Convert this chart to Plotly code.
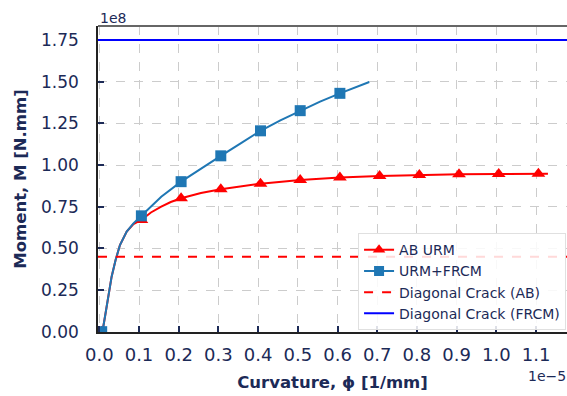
import plotly.graph_objects as go

# Curvature in units of 1e-5 1/mm, moment in units of 1e8 N.mm
ab_curve_x = [0.006, 0.010, 0.015, 0.020, 0.025, 0.031, 0.041, 0.052, 0.069, 0.086, 0.106, 0.130,
              0.156, 0.180, 0.206, 0.256, 0.306, 0.356, 0.406, 0.506, 0.606, 0.706, 0.806, 0.906,
              1.006, 1.106, 1.130]
ab_curve_y = [0.0, 0.03, 0.10, 0.18, 0.25, 0.33, 0.43, 0.52, 0.60, 0.645, 0.67, 0.715,
              0.75, 0.778, 0.80, 0.832, 0.855, 0.873, 0.888, 0.91, 0.925, 0.934, 0.94, 0.944,
              0.946, 0.947, 0.947]
ab_mark_x = [0.006, 0.106, 0.206, 0.306, 0.406, 0.506, 0.606, 0.706, 0.806, 0.906, 1.006, 1.106]
ab_mark_y = [0.0, 0.67, 0.80, 0.855, 0.888, 0.91, 0.925, 0.934, 0.94, 0.944, 0.946, 0.947]

frcm_curve_x = [0.006, 0.010, 0.015, 0.020, 0.025, 0.031, 0.041, 0.052, 0.069, 0.086, 0.106,
                0.156, 0.206, 0.256, 0.306, 0.356, 0.406, 0.456, 0.506, 0.556, 0.606, 0.680]
frcm_curve_y = [0.0, 0.03, 0.10, 0.18, 0.25, 0.33, 0.43, 0.52, 0.60, 0.65, 0.695,
                0.81, 0.90, 0.98, 1.055, 1.13, 1.205, 1.268, 1.326, 1.38, 1.43, 1.498]
frcm_mark_x = [0.006, 0.106, 0.206, 0.306, 0.406, 0.506, 0.606]
frcm_mark_y = [0.0, 0.695, 0.90, 1.055, 1.205, 1.326, 1.43]

diag_crack_ab = 0.45
diag_crack_frcm = 1.75

x_ticks = [0.0, 0.1, 0.2, 0.3, 0.4, 0.5, 0.6, 0.7, 0.8, 0.9, 1.0, 1.1]
x_tick_labels = ["0.0", "0.1", "0.2", "0.3", "0.4", "0.5", "0.6", "0.7", "0.8", "0.9", "1.0", "1.1"]
y_ticks = [0.0, 0.25, 0.5, 0.75, 1.0, 1.25, 1.5, 1.75]
y_tick_labels = ["0.00", "0.25", "0.50", "0.75", "1.00", "1.25", "1.50", "1.75"]

NAVY = "#1c2a57"
RED = "#ff0000"
BLUE = "#1f77b4"
FONT = "DejaVu Sans"

fig = go.Figure()

# AB URM
fig.add_trace(go.Scatter(x=ab_curve_x, y=ab_curve_y, mode="lines", line=dict(color=RED, width=2),
                         showlegend=False, hoverinfo="skip"))
fig.add_trace(go.Scatter(x=ab_mark_x, y=ab_mark_y, mode="markers",
                         marker=dict(symbol="triangle-up", size=12, color=RED), showlegend=False))
# URM+FRCM
fig.add_trace(go.Scatter(x=frcm_curve_x, y=frcm_curve_y, mode="lines", line=dict(color=BLUE, width=2),
                         showlegend=False, hoverinfo="skip"))
fig.add_trace(go.Scatter(x=frcm_mark_x, y=frcm_mark_y, mode="markers",
                         marker=dict(symbol="square", size=11, color=BLUE), showlegend=False))

# horizontal reference lines
fig.add_hline(y=diag_crack_ab, line=dict(color=RED, width=2, dash="dash"))
fig.add_hline(y=diag_crack_frcm, line=dict(color="#0000ff", width=2))

# legend entries
fig.add_trace(go.Scatter(x=[None], y=[None], mode="lines+markers", name="AB URM",
                         line=dict(color=RED, width=2), marker=dict(symbol="triangle-up", size=11, color=RED)))
fig.add_trace(go.Scatter(x=[None], y=[None], mode="lines+markers", name="URM+FRCM",
                         line=dict(color=BLUE, width=2), marker=dict(symbol="square", size=10, color=BLUE)))
fig.add_trace(go.Scatter(x=[None], y=[None], mode="lines", name="Diagonal Crack (AB)",
                         line=dict(color=RED, width=2, dash="dash")))
fig.add_trace(go.Scatter(x=[None], y=[None], mode="lines", name="Diagonal Crack (FRCM)",
                         line=dict(color="#0000ff", width=2)))

# top spine
fig.add_shape(type="line", xref="paper", yref="paper", x0=0, x1=1, y0=1, y1=1,
              line=dict(color="#666666", width=2))

fig.update_layout(
    width=567, height=396,
    margin=dict(l=98, r=0, t=26, b=64),
    paper_bgcolor="white", plot_bgcolor="white",
    font=dict(family=FONT, color=NAVY, size=16),
    legend=dict(x=0.998, xanchor="right", y=0.006, yanchor="bottom",
                bgcolor="rgba(255,255,255,0.85)", bordercolor="#e0e0e0", borderwidth=1,
                font=dict(size=14, color=NAVY), tracegroupgap=0),
    annotations=[
        dict(text="1e8", xref="paper", yref="paper", x=0.0, y=1.0, xanchor="left", yanchor="bottom",
             showarrow=False, font=dict(size=14, color=NAVY), xshift=0, yshift=-2),
        dict(text="1e\u22125", xref="paper", yref="paper", x=1.0, y=0.0, xanchor="right", yanchor="top",
             showarrow=False, font=dict(size=14, color=NAVY), yshift=-34, xshift=1),
    ],
)

fig.update_xaxes(
    range=[-0.0033, 1.178], tickvals=x_ticks, ticktext=x_tick_labels,
    ticks="inside", ticklen=6, tickwidth=2, tickcolor=NAVY,
    showline=True, linecolor="#222222", linewidth=1.5,
    showgrid=True, gridcolor="#cccccc", griddash="dash", gridwidth=1,
    zeroline=False, ticklabelstandoff=6,
    tickfont=dict(size=18, color=NAVY),
    title=dict(text="<b>Curvature, \u03d5 [1/mm]</b>", font=dict(size=16.5, color=NAVY), standoff=12),
)
fig.update_yaxes(
    range=[-0.002, 1.834], tickvals=y_ticks, ticktext=y_tick_labels,
    ticks="inside", ticklen=6, tickwidth=2, tickcolor=NAVY,
    showline=True, linecolor="#222222", linewidth=1.5,
    showgrid=True, gridcolor="#cccccc", griddash="dash", gridwidth=1,
    zeroline=False, ticklabelstandoff=14,
    tickfont=dict(size=17, color=NAVY),
    title=dict(text="<b>Moment, M [N.mm]</b>", font=dict(size=16.5, color=NAVY), standoff=10),
)

fig.write_html("out.html", config={"displayModeBar": False},
               post_script="document.body.style.margin='0';document.body.style.overflow='hidden';")
